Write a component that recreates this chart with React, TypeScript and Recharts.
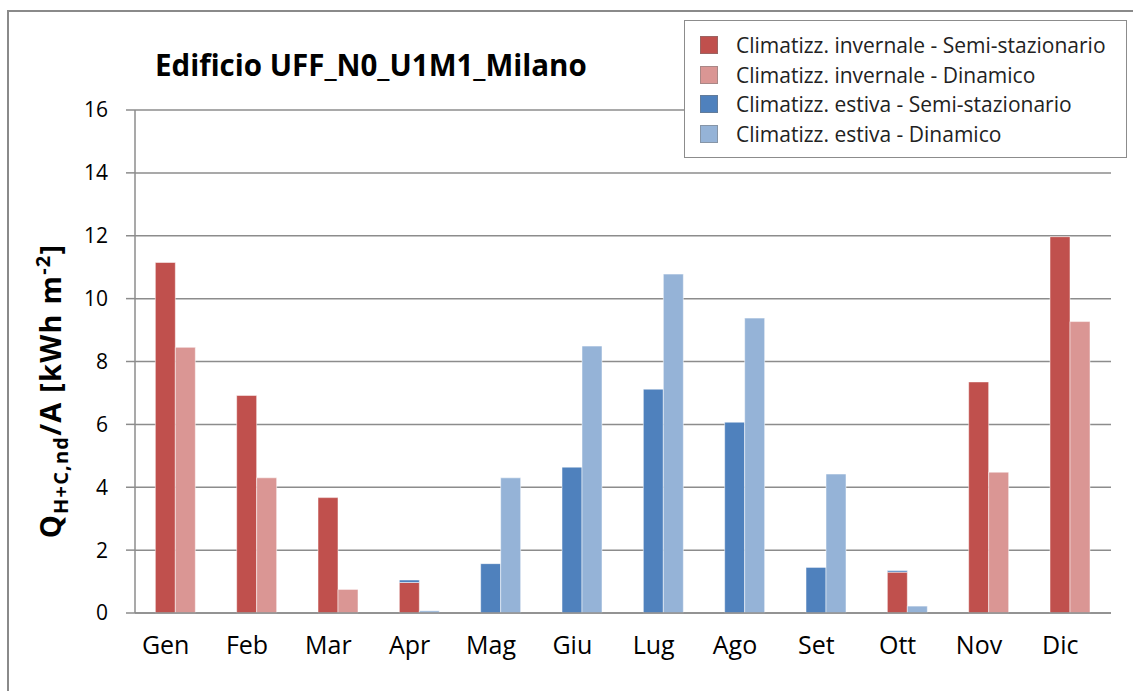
import React from 'react';
import { BarChart, Bar, XAxis, YAxis, CartesianGrid } from 'recharts';

const months = ['Gen', 'Feb', 'Mar', 'Apr', 'Mag', 'Giu', 'Lug', 'Ago', 'Set', 'Ott', 'Nov', 'Dic'];
const winterSemi = [11.15, 6.92, 3.67, 0.97, 0, 0, 0, 0, 0, 1.3, 7.35, 11.97];
const winterDyn = [8.45, 4.3, 0.75, 0, 0, 0, 0, 0, 0, 0, 4.48, 9.27];
const summerSemi = [0, 0, 0, 0.08, 1.57, 4.64, 7.12, 6.07, 1.45, 0.05, 0, 0];
const summerDyn = [0, 0, 0, 0.07, 4.3, 8.49, 10.78, 9.38, 4.42, 0.22, 0, 0];
const yTicks = [0, 2, 4, 6, 8, 10, 12, 14, 16];

const seriesNames = [
  'Climatizz. invernale - Semi-stazionario',
  'Climatizz. invernale - Dinamico',
  'Climatizz. estiva - Semi-stazionario',
  'Climatizz. estiva - Dinamico',
];
const colors = ['#C0504D', '#DA9694', '#4F81BD', '#95B3D7'];

const data = months.map((m, i) => ({
  month: m,
  ws: winterSemi[i],
  wd: winterDyn[i],
  ss: summerSemi[i],
  sd: summerDyn[i],
}));

const FONT = '"Open Sans", Lato, sans-serif';

export default function App() {
  return (
    <div style={{ position: 'absolute', left: 0, top: 0, width: 1133, height: 691, overflow: 'hidden', background: '#fff', fontFamily: FONT }}>
      <div style={{ position: 'absolute', left: 7, top: 10, width: 1140, height: 700, borderTop: '2px solid #8a8a8a', borderLeft: '2px solid #8a8a8a' }} />
      <div style={{ position: 'absolute', left: 0, top: 0 }}>
        <BarChart
          width={1133}
          height={691}
          data={data}
          margin={{ top: 110, right: 22, bottom: 48, left: 0 }}
          barCategoryGap="25%"
          barGap={0}
        >
          <CartesianGrid vertical={false} stroke="#8c8c8c" strokeWidth={1.5} />
          <XAxis
            dataKey="month"
            tickLine={false}
            axisLine={{ stroke: '#8c8c8c', strokeWidth: 1.5 }}
            tick={{ fontSize: 25, fill: '#000', fontFamily: FONT, dx: -10 }}
            tickMargin={17}
            interval={0}
          />
          <YAxis
            width={135}
            domain={[0, 16]}
            ticks={yTicks}
            interval={0}
            tickSize={9}
            tickLine={{ stroke: '#8c8c8c', strokeWidth: 1.5 }}
            axisLine={{ stroke: '#8c8c8c', strokeWidth: 1.5 }}
            tick={{ fontSize: 21, fill: '#000', fontFamily: FONT }}
            tickMargin={18}
          />
          <Bar dataKey="ws" name={seriesNames[0]} stackId="semi" fill={colors[0]} stroke="rgba(255,255,255,0.5)" strokeWidth={1} isAnimationActive={false} />
          <Bar dataKey="wd" name={seriesNames[1]} stackId="dyn" fill={colors[1]} stroke="rgba(255,255,255,0.5)" strokeWidth={1} isAnimationActive={false} />
          <Bar dataKey="ss" name={seriesNames[2]} stackId="semi" fill={colors[2]} stroke="rgba(255,255,255,0.5)" strokeWidth={1} isAnimationActive={false} />
          <Bar dataKey="sd" name={seriesNames[3]} stackId="dyn" fill={colors[3]} stroke="rgba(255,255,255,0.5)" strokeWidth={1} isAnimationActive={false} />
        </BarChart>
      </div>
      <div style={{ position: 'absolute', left: 155, top: 45, fontSize: 29.5, fontWeight: 700, color: '#000', whiteSpace: 'nowrap', lineHeight: 1.36 }}>
        Edificio UFF_N0_U1M1_Milano
      </div>
      <div
        style={{
          position: 'absolute',
          left: 52,
          top: 391,
          transform: 'translate(-50%, -50%) rotate(-90deg)',
          fontSize: 29,
          fontWeight: 700,
          letterSpacing: 1.2,
          color: '#000',
          whiteSpace: 'nowrap',
          lineHeight: 1,
        }}
      >
        <span>Q</span>
        <sub style={{ fontSize: 20 }}>H+C,nd</sub>/A [kWh m<sup style={{ fontSize: 20 }}>-2</sup>]
      </div>
      <div
        style={{
          position: 'absolute',
          left: 684,
          top: 20,
          width: 441,
          height: 136,
          border: '1.5px solid #8c8c8c',
          background: '#fff',
        }}
      >
        {seriesNames.map((n, i) => (
          <div key={n} style={{ position: 'absolute', left: 15, top: 12 + i * 29.5, height: 24, display: 'flex', alignItems: 'center' }}>
            <div style={{ width: 16, height: 16, background: colors[i], border: '1px solid rgba(120,120,120,0.5)' }} />
            <span style={{ marginLeft: 18, fontSize: 21, color: '#222', whiteSpace: 'nowrap' }}>{n}</span>
          </div>
        ))}
      </div>
    </div>
  );
}
